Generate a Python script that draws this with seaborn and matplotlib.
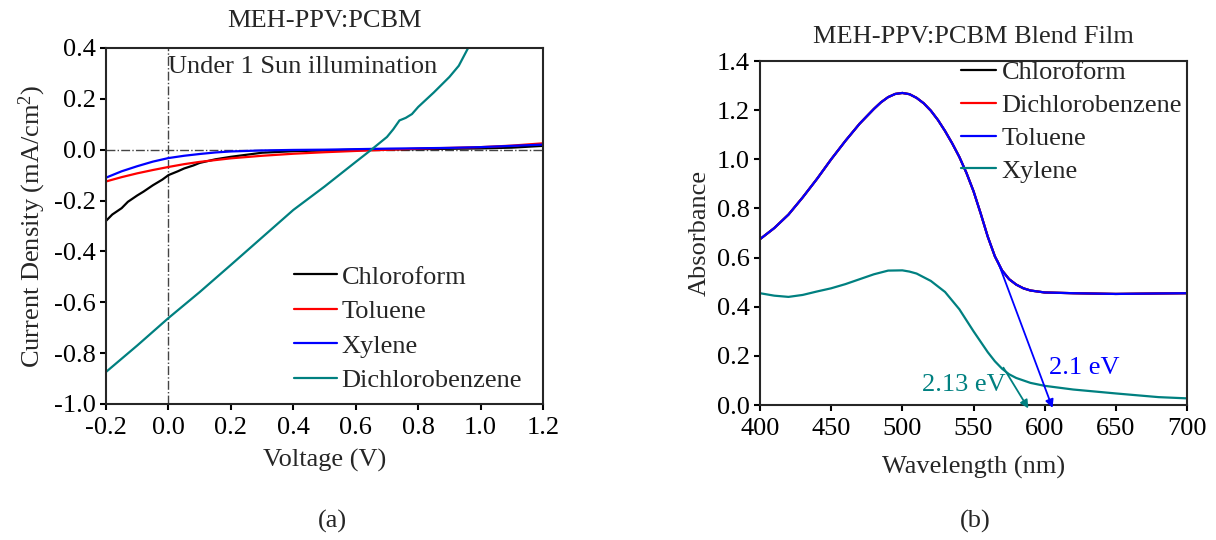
import pandas as pd
import matplotlib.pyplot as plt
import seaborn as sns

# --- DATA: (a) J-V curves under 1 sun ---
solvents_jv = ['Chloroform', 'Toluene', 'Xylene', 'Dichlorobenzene']
jv_colors = {'Chloroform': 'black', 'Toluene': 'red', 'Xylene': 'blue', 'Dichlorobenzene': '#008080'}

v_chloroform = [-0.2, -0.18, -0.15, -0.13, -0.1, -0.08, -0.05, -0.02, 0.0, 0.03, 0.05, 0.08, 0.1, 0.15, 0.2, 0.3, 0.4, 0.5, 0.6, 0.8, 1.0, 1.1, 1.2]
j_chloroform = [-0.28, -0.255, -0.23, -0.205, -0.18, -0.165, -0.14, -0.118, -0.1, -0.085, -0.074, -0.062, -0.052, -0.038, -0.028, -0.012, -0.006, -0.003, 0.0, 0.002, 0.005, 0.008, 0.015]

v_toluene = [-0.2, -0.15, -0.1, -0.05, 0.0, 0.05, 0.1, 0.2, 0.3, 0.4, 0.5, 0.6, 0.8, 1.0, 1.1, 1.2]
j_toluene = [-0.125, -0.108, -0.093, -0.08, -0.068, -0.057, -0.048, -0.034, -0.024, -0.016, -0.01, -0.005, 0.004, 0.01, 0.016, 0.025]

v_xylene = [-0.2, -0.17, -0.15, -0.1, -0.05, 0.0, 0.05, 0.1, 0.15, 0.2, 0.3, 0.4, 0.5, 0.7, 0.9, 1.0, 1.1, 1.2]
j_xylene = [-0.11, -0.095, -0.085, -0.065, -0.047, -0.033, -0.024, -0.017, -0.011, -0.007, -0.003, -0.001, 0.0, 0.004, 0.007, 0.01, 0.015, 0.02]

v_dcb = [-0.2, -0.1, 0.0, 0.1, 0.2, 0.3, 0.4, 0.5, 0.6, 0.65, 0.7, 0.72, 0.74, 0.76, 0.78, 0.8, 0.85, 0.9, 0.93, 0.96, 1.0]
j_dcb = [-0.874, -0.77, -0.662, -0.56, -0.453, -0.345, -0.237, -0.145, -0.048, 0.0, 0.05, 0.08, 0.115, 0.125, 0.14, 0.168, 0.225, 0.286, 0.33, 0.4, 0.46]

# --- DATA: (b) UV-vis absorbance of blend films ---
solvents_abs = ['Chloroform', 'Dichlorobenzene', 'Toluene', 'Xylene']
abs_colors = {'Chloroform': 'black', 'Dichlorobenzene': 'red', 'Toluene': 'blue', 'Xylene': '#008080'}

wl_upper = [400, 410, 420, 430, 440, 450, 460, 470, 480, 485, 490, 495, 500, 505, 510, 515, 520, 525, 530, 535, 540, 545, 550, 555, 560, 565, 570, 575, 580, 585, 590, 600, 620, 650, 680, 700]
abs_upper = [0.675, 0.72, 0.775, 0.845, 0.92, 1.0, 1.075, 1.145, 1.205, 1.232, 1.253, 1.266, 1.27, 1.265, 1.25, 1.228, 1.198, 1.16, 1.115, 1.065, 1.01, 0.945, 0.87, 0.78, 0.685, 0.605, 0.548, 0.512, 0.49, 0.475, 0.466, 0.458, 0.455, 0.452, 0.454, 0.455]

wl_xylene = [400, 410, 420, 430, 440, 450, 460, 470, 480, 490, 500, 505, 510, 520, 530, 540, 550, 560, 565, 570, 575, 580, 590, 600, 620, 650, 680, 700]
abs_xylene = [0.455, 0.445, 0.44, 0.448, 0.462, 0.475, 0.492, 0.512, 0.532, 0.547, 0.548, 0.543, 0.535, 0.505, 0.46, 0.39, 0.3, 0.215, 0.178, 0.148, 0.125, 0.11, 0.09, 0.078, 0.063, 0.047, 0.032, 0.027]

# band-gap tangent lines (start, arrow tip) and labels
tangent_toluene = [(567, 0.585), (605.5, -0.012)]
tangent_xylene = [(571, 0.152), (588.5, -0.014)]
gap_labels = [('2.1 eV', 603, 0.152, 'blue'), ('2.13 eV', 514, 0.08, '#008080')]


def long_form(xs, ys, names, xname, yname):
    parts = []
    for x, y, n in zip(xs, ys, names):
        parts.append(pd.DataFrame({xname: x, yname: y, 'solvent': n}))
    return pd.concat(parts, ignore_index=True)


jv_df = long_form([v_chloroform, v_toluene, v_xylene, v_dcb],
                  [j_chloroform, j_toluene, j_xylene, j_dcb],
                  solvents_jv, 'voltage', 'current')
abs_df = long_form([wl_upper, wl_upper, wl_upper, wl_xylene],
                   [abs_upper, abs_upper, abs_upper, abs_xylene],
                   solvents_abs, 'wavelength', 'absorbance')

# --- STYLE ---
sns.set_style("ticks")
plt.rcParams['font.family'] = ['Liberation Serif', 'DejaVu Serif']
plt.rcParams['mathtext.default'] = 'regular'
plt.rcParams['font.size'] = 19
plt.rcParams['axes.linewidth'] = 1.5
for ax_name in ['xtick', 'ytick']:
    plt.rcParams[f'{ax_name}.major.width'] = 1.5
    plt.rcParams[f'{ax_name}.major.size'] = 4.5
    plt.rcParams[f'{ax_name}.major.pad'] = 3
    plt.rcParams[f'{ax_name}.labelsize'] = 19
    plt.rcParams[f'{ax_name}.color'] = 'black'
plt.rcParams['xtick.major.pad'] = 5

fig = plt.figure(figsize=(12.16, 5.4), dpi=100)
ax1 = fig.add_axes([0.0872, 0.2519, 0.3594, 0.6593])
ax2 = fig.add_axes([0.625, 0.25, 0.3512, 0.637])

# --- (a) J-V ---
sns.lineplot(data=jv_df, x='voltage', y='current', hue='solvent', hue_order=solvents_jv,
             palette=jv_colors, estimator=None, sort=False, linewidth=1.6, ax=ax1)
ax1.axhline(0, color='#444444', lw=1, ls='-.', zorder=0)
ax1.axvline(0, color='#444444', lw=1, ls='-.', zorder=0)
ax1.set_xlim(-0.2, 1.2)
ax1.set_ylim(-1.0, 0.4)
ax1.set_xticks([-0.2, 0.0, 0.2, 0.4, 0.6, 0.8, 1.0, 1.2])
ax1.set_yticks([-1.0, -0.8, -0.6, -0.4, -0.2, 0.0, 0.2, 0.4])
ax1.xaxis.set_major_formatter(plt.FuncFormatter(lambda v, _: f'{v:.1f}'))
ax1.yaxis.set_major_formatter(plt.FuncFormatter(lambda v, _: f'{v:.1f}'))
ax1.set_xlabel('Voltage (V)', fontsize=19, labelpad=7)
ax1.set_ylabel('Current Density (mA/cm$^2$)', fontsize=19, labelpad=4)
ax1.set_title('MEH-PPV:PCBM', fontsize=19, pad=15)
ax1.text(0.0, 0.325, 'Under 1 Sun illumination', fontsize=19, va='center', ha='left')
sns.move_legend(ax1, 'upper left', bbox_to_anchor=(0.43, 0.39), frameon=False, title=None,
                fontsize=19, handlelength=1.65, handletextpad=0.15, labelspacing=0.42,
                borderaxespad=0, borderpad=0)

# --- (b) absorbance ---
sns.lineplot(data=abs_df, x='wavelength', y='absorbance', hue='solvent', hue_order=solvents_abs,
             palette=abs_colors, estimator=None, sort=False, linewidth=1.6, ax=ax2)
for (start, tip), col in [(tangent_toluene, 'blue'), (tangent_xylene, '#008080')]:
    ax2.annotate('', xy=tip, xytext=start, annotation_clip=False,
                 arrowprops=dict(arrowstyle='-|>', color=col, lw=1.3, mutation_scale=12,
                                 shrinkA=0, shrinkB=0))
for label, lx, ly, col in gap_labels:
    ax2.text(lx, ly, label, color=col, fontsize=19, va='center', ha='left')
ax2.set_xlim(400, 700)
ax2.set_ylim(0.0, 1.4)
ax2.set_xticks([400, 450, 500, 550, 600, 650, 700])
ax2.set_yticks([0.0, 0.2, 0.4, 0.6, 0.8, 1.0, 1.2, 1.4])
ax2.yaxis.set_major_formatter(plt.FuncFormatter(lambda v, _: f'{v:.1f}'))
ax2.set_xlabel('Wavelength (nm)', fontsize=19, labelpad=11)
ax2.set_ylabel('Absorbance', fontsize=19, labelpad=4)
ax2.set_title('MEH-PPV:PCBM Blend Film', fontsize=19, pad=13)
sns.move_legend(ax2, 'upper left', bbox_to_anchor=(0.47, 1.0), frameon=False, title=None,
                fontsize=19, handlelength=1.35, handletextpad=0.2, labelspacing=0.35,
                borderaxespad=0, borderpad=0)

for ax in (ax1, ax2):
    for side in ['top', 'right']:
        ax.spines[side].set_visible(True)

fig.text(332 / 1216, 1 - 521 / 540, '(a)', fontsize=19, ha='center', va='center')
fig.text(975 / 1216, 1 - 521 / 540, '(b)', fontsize=19, ha='center', va='center')

plt.savefig('out.png', dpi=100)
plt.close()
